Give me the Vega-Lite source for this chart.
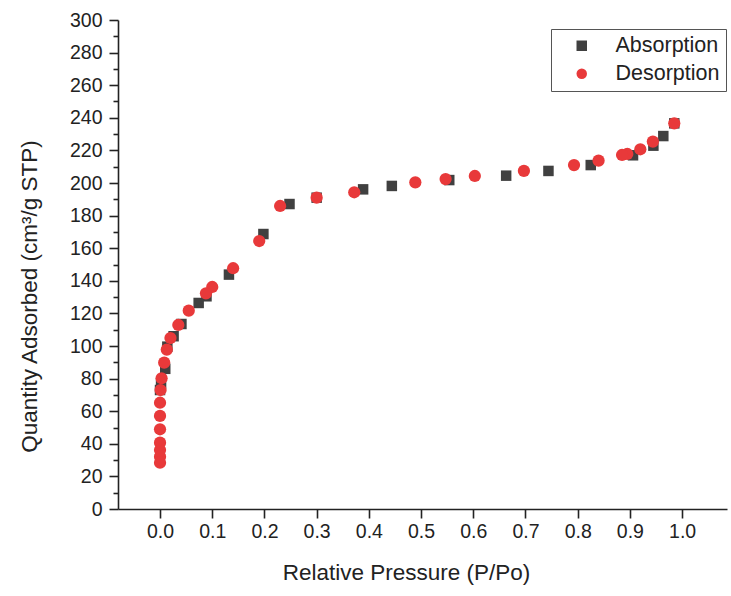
{
  "$schema": "https://vega.github.io/schema/vega-lite/v6.json",
  "width": 609,
  "height": 489,
  "autosize": "none",
  "padding": {"left": 118, "top": 20, "right": 4, "bottom": 87},
  "background": "white",
  "config": {
    "view": {"stroke": null},
    "font": "Liberation Sans",
    "axis": {
      "grid": false,
      "domainColor": "#222",
      "domainWidth": 1.6,
      "tickColor": "#222",
      "tickWidth": 1.6,
      "labelColor": "#222",
      "titleColor": "#222",
      "labelFont": "Liberation Sans",
      "titleFont": "Liberation Sans",
      "titleFontWeight": "normal",
      "labelFontSize": 19.5,
      "titleFontSize": 22.5
    },
    "legend": {"labelFont": "Liberation Sans"}
  },
  "data": {
    "values": [
      {"p": 0.000, "q": 73.0, "series": "Absorption"},
      {"p": 0.002, "q": 77.0, "series": "Absorption"},
      {"p": 0.010, "q": 86.0, "series": "Absorption"},
      {"p": 0.014, "q": 99.6, "series": "Absorption"},
      {"p": 0.026, "q": 106.0, "series": "Absorption"},
      {"p": 0.041, "q": 113.5, "series": "Absorption"},
      {"p": 0.074, "q": 126.4, "series": "Absorption"},
      {"p": 0.089, "q": 130.5, "series": "Absorption"},
      {"p": 0.132, "q": 143.8, "series": "Absorption"},
      {"p": 0.198, "q": 168.7, "series": "Absorption"},
      {"p": 0.248, "q": 187.1, "series": "Absorption"},
      {"p": 0.300, "q": 191.0, "series": "Absorption"},
      {"p": 0.389, "q": 196.1, "series": "Absorption"},
      {"p": 0.444, "q": 198.2, "series": "Absorption"},
      {"p": 0.554, "q": 201.8, "series": "Absorption"},
      {"p": 0.663, "q": 204.5, "series": "Absorption"},
      {"p": 0.744, "q": 207.4, "series": "Absorption"},
      {"p": 0.825, "q": 211.0, "series": "Absorption"},
      {"p": 0.906, "q": 217.0, "series": "Absorption"},
      {"p": 0.945, "q": 222.9, "series": "Absorption"},
      {"p": 0.964, "q": 228.8, "series": "Absorption"},
      {"p": 0.985, "q": 236.6, "series": "Absorption"},
      {"p": 0.985, "q": 236.6, "series": "Desorption"},
      {"p": 0.944, "q": 225.4, "series": "Desorption"},
      {"p": 0.920, "q": 220.7, "series": "Desorption"},
      {"p": 0.895, "q": 217.8, "series": "Desorption"},
      {"p": 0.885, "q": 217.2, "series": "Desorption"},
      {"p": 0.840, "q": 213.7, "series": "Desorption"},
      {"p": 0.793, "q": 211.0, "series": "Desorption"},
      {"p": 0.697, "q": 207.4, "series": "Desorption"},
      {"p": 0.603, "q": 204.3, "series": "Desorption"},
      {"p": 0.547, "q": 202.4, "series": "Desorption"},
      {"p": 0.489, "q": 200.4, "series": "Desorption"},
      {"p": 0.372, "q": 194.3, "series": "Desorption"},
      {"p": 0.300, "q": 191.0, "series": "Desorption"},
      {"p": 0.230, "q": 185.9, "series": "Desorption"},
      {"p": 0.190, "q": 164.4, "series": "Desorption"},
      {"p": 0.140, "q": 147.7, "series": "Desorption"},
      {"p": 0.100, "q": 136.2, "series": "Desorption"},
      {"p": 0.088, "q": 132.3, "series": "Desorption"},
      {"p": 0.055, "q": 121.7, "series": "Desorption"},
      {"p": 0.035, "q": 112.9, "series": "Desorption"},
      {"p": 0.020, "q": 104.9, "series": "Desorption"},
      {"p": 0.013, "q": 97.8, "series": "Desorption"},
      {"p": 0.008, "q": 89.8, "series": "Desorption"},
      {"p": 0.003, "q": 80.2, "series": "Desorption"},
      {"p": 0.001, "q": 73.0, "series": "Desorption"},
      {"p": 0.000, "q": 65.2, "series": "Desorption"},
      {"p": 0.000, "q": 57.1, "series": "Desorption"},
      {"p": 0.000, "q": 48.9, "series": "Desorption"},
      {"p": 0.000, "q": 40.7, "series": "Desorption"},
      {"p": 0.000, "q": 36.2, "series": "Desorption"},
      {"p": 0.000, "q": 32.1, "series": "Desorption"},
      {"p": 0.000, "q": 28.4, "series": "Desorption"}
    ]
  },
  "resolve": {"axis": {"y": "independent"}},
  "layer": [
    {
      "transform": [{"filter": "datum.series === 'Absorption'"}],
      "mark": {"type": "point", "filled": true, "opacity": 1, "size": 110},
      "encoding": {
        "x": {
          "field": "p", "type": "quantitative",
          "scale": {"domain": [-0.0805, 1.086], "nice": false, "zero": false},
          "axis": {
            "values": [0, 0.1, 0.2, 0.3, 0.4, 0.5, 0.6, 0.7, 0.8, 0.9, 1.0],
            "format": ".1f",
            "tickSize": 9,
            "labelPadding": 4,
            "title": "Relative Pressure (P/Po)",
            "titleX": 288,
            "titleY": 70,
            "titleBaseline": "alphabetic",
            "titleAlign": "center"
          }
        },
        "y": {
          "field": "q", "type": "quantitative",
          "scale": {"domain": [0, 300], "nice": false},
          "axis": {
            "orient": "left",
            "values": [0, 20, 40, 60, 80, 100, 120, 140, 160, 180, 200, 220, 240, 260, 280, 300],
            "tickSize": 9,
            "labelPadding": 7,
            "title": "Quantity Adsorbed (cm³/g STP)",
            "titleX": -82,
            "titleY": 276,
            "titleAngle": -90,
            "titleBaseline": "alphabetic",
            "titleAlign": "center"
          }
        },
        "color": {
          "field": "series", "type": "nominal",
          "scale": {"domain": ["Absorption", "Desorption"], "range": ["#404040", "#E8393A"]},
          "legend": {
            "title": null,
            "orient": "none",
            "legendX": 433,
            "legendY": 9,
            "strokeColor": "#555",
            "fillColor": "white",
            "padding": 6,
            "symbolOffset": 14,
            "symbolSize": 110,
            "symbolStrokeWidth": 0,
            "labelFontSize": 21.5,
            "labelColor": "#222",
            "labelOffset": 23,
            "rowPadding": 5
          }
        },
        "shape": {
          "field": "series", "type": "nominal",
          "scale": {"domain": ["Absorption", "Desorption"], "range": ["square", "circle"]}
        }
      }
    },
    {
      "transform": [{"filter": "datum.series === 'Desorption'"}],
      "mark": {"type": "point", "filled": true, "opacity": 1, "size": 150},
      "encoding": {
        "x": {"field": "p", "type": "quantitative"},
        "y": {
          "field": "q", "type": "quantitative",
          "axis": {
            "orient": "left",
            "values": [10, 30, 50, 70, 90, 110, 130, 150, 170, 190, 210, 230, 250, 270, 290],
            "tickSize": 5,
            "labels": false,
            "domain": false,
            "title": null
          }
        },
        "color": {"field": "series", "type": "nominal"},
        "shape": {"field": "series", "type": "nominal"}
      }
    }
  ]
}
